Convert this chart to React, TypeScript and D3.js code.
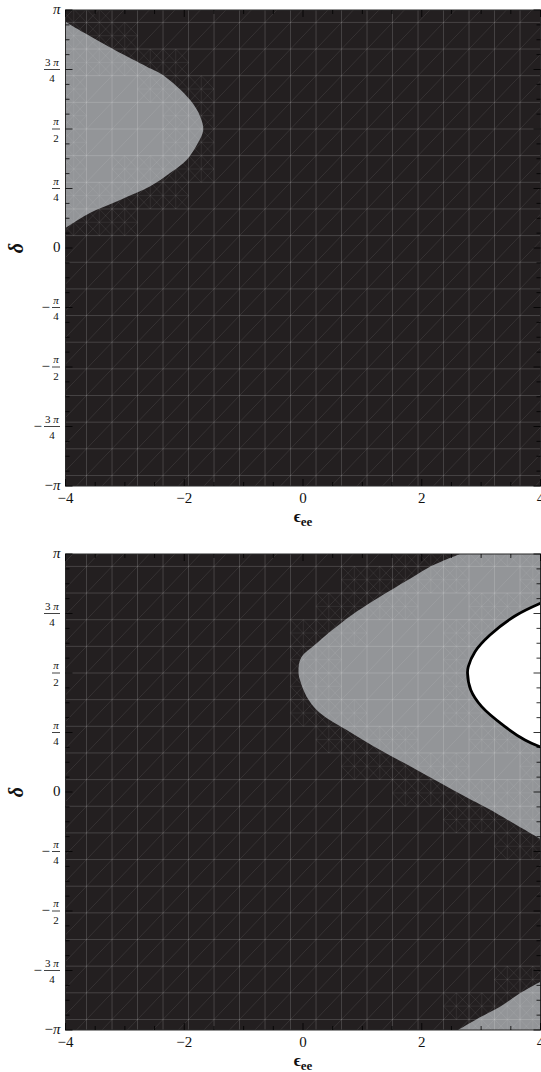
import React from "react";
import * as d3 from "d3";

const PI = Math.PI;

// ---------- axes ----------
const epsMajorTicks = [-4, -2, 0, 2, 4];
const epsTickLabels = ["−4", "−2", "0", "2", "4"];
const epsMinorTicks = [-3.5, -3, -2.5, -1.5, -1, -0.5, 0.5, 1, 1.5, 2.5, 3, 3.5];

const deltaTickValues = [PI, (3 * PI) / 4, PI / 2, PI / 4, 0, -PI / 4, -PI / 2, (-3 * PI) / 4, -PI];
const deltaTickSigns = ["", "", "", "", "", "−", "−", "−", "−"];
const deltaTickNums = ["π", "3 π", "π", "π", "0", "π", "π", "3 π", "π"];
const deltaTickDens = ["", "4", "2", "4", "", "4", "2", "4", ""];
const deltaMinorTicks = d3.range(-16, 17).filter((k) => k % 4 !== 0).map((k) => (k * PI) / 16);

// ---------- upper panel: grey region (ε_ee, δ), left edge to left edge ----------
const upperGreyEps = [-4.0, -3.67, -3.17, -2.63, -2.36, -1.9, -1.73, -1.68, -1.77, -1.96, -2.24, -2.58, -3.08, -3.59, -4.0];
const upperGreyDelta = [2.988, 2.834, 2.614, 2.394, 2.284, 1.954, 1.734, 1.558, 1.385, 1.162, 0.99, 0.811, 0.635, 0.462, 0.264];

// ---------- lower panel: grey band, from the top edge round to the right edge ----------
const lowerBandEps = [2.644, 2.139, 1.858, 1.297, 0.904, 0.568, 0.231, -0.034, -0.076, -0.051, 0.062, 0.231, 0.45, 0.736, 1.011, 1.331, 1.768, 2.223, 2.745, 3.099, 3.537, 4.0];
const lowerBandDelta = [3.1416, 2.974, 2.842, 2.578, 2.381, 2.183, 1.963, 1.769, 1.584, 1.478, 1.258, 1.082, 0.95, 0.818, 0.686, 0.541, 0.356, 0.158, -0.066, -0.211, -0.409, -0.62];

// lower panel: grey corner at the bottom right
const lowerCornerEps = [2.615, 2.981, 3.318, 3.655, 4.0];
const lowerCornerDelta = [-3.1416, -2.974, -2.834, -2.657, -2.505];

// lower panel: white region bounded by the solid curve
const lowerWhiteEps = [4.0, 3.57, 3.149, 2.897, 2.784, 2.771, 2.826, 3.01, 3.402, 3.739, 4.0];
const lowerWhiteDelta = [2.491, 2.323, 2.072, 1.852, 1.654, 1.567, 1.346, 1.126, 0.862, 0.686, 0.594];

// sampling mesh of the region plot
const MESH_EPS0 = -3.646;
const MESH_EPS_STEP = 0.4295;
const MESH_DELTA0 = PI / 2;
const MESH_DELTA_STEP = 0.3518;

// ---------- layout ----------
const WIDTH = 541;
const HEIGHT = 1072;
const PLOT_LEFT = 65.5;
const PLOT_RIGHT = 540.5;
const DARK = "#231f20";
const GREY = "#939598";
const SERIF = "'Liberation Serif', 'Times New Roman', 'DejaVu Serif', serif";

type Region = { eps: number[]; delta: number[]; corners: [number, number][]; fill: string; cls: number };

function zip(a: number[], b: number[]): [number, number][] {
  return a.map((v, i) => [v, b[i]] as [number, number]);
}

function Panel({ top, bottom, regions, uid }: { top: number; bottom: number; regions: Region[]; uid: string }) {
  const x = d3.scaleLinear().domain([-4, 4]).range([PLOT_LEFT, PLOT_RIGHT]);
  const y = d3.scaleLinear().domain([-PI, PI]).range([bottom, top]);
  const curve = d3
    .line<[number, number]>()
    .x((d) => x(d[0]))
    .y((d) => y(d[1]))
    .curve(d3.curveCatmullRom.alpha(0.5));

  const built = regions.map((r) => {
    const pts = zip(r.eps, r.delta);
    const boundary = curve(pts) || "";
    const d = boundary + r.corners.map((c) => `L${x(c[0])},${y(c[1])}`).join("") + "Z";
    const poly: [number, number][] = pts
      .map((p) => [x(p[0]), y(p[1])] as [number, number])
      .concat(r.corners.map((c) => [x(c[0]), y(c[1])] as [number, number]));
    return { ...r, boundary, d, poly };
  });

  const classify = (px: number, py: number) => {
    let c = 0;
    for (const r of built) if (d3.polygonContains(r.poly, [px, py])) c = Math.max(c, r.cls);
    return c;
  };

  // mesh lines
  const meshEps = d3.range(-12, 25).map((k) => MESH_EPS0 + k * MESH_EPS_STEP).filter((v) => v > -4.6 && v < 4.6);
  const meshDelta = d3.range(-14, 14).map((k) => MESH_DELTA0 + k * MESH_DELTA_STEP).filter((v) => v > -PI - 0.5 && v < PI + 0.5);

  let grid = "";
  meshEps.forEach((e) => (grid += `M${x(e)},${top}V${bottom}`));
  meshDelta.forEach((dl) => (grid += `M${PLOT_LEFT},${y(dl)}H${PLOT_RIGHT}`));

  let diag = "";
  d3.range(-40, 60).forEach((n) => {
    const e1 = MESH_EPS0 + (n - 40) * MESH_EPS_STEP;
    const d1 = MESH_DELTA0 - 40 * MESH_DELTA_STEP;
    const e2 = MESH_EPS0 + (n + 40) * MESH_EPS_STEP;
    const d2 = MESH_DELTA0 + 40 * MESH_DELTA_STEP;
    diag += `M${x(e1)},${y(d1)}L${x(e2)},${y(d2)}`;
  });

  // refined cells near region boundaries
  let fine = "";
  for (let i = 0; i < meshEps.length - 1; i++) {
    for (let j = 0; j < meshDelta.length - 1; j++) {
      const xa = x(meshEps[i]);
      const xb = x(meshEps[i + 1]);
      const ya = y(meshDelta[j]);
      const yb = y(meshDelta[j + 1]);
      const hw = (xb - xa) * 0.5;
      const hh = (ya - yb) * 0.5;
      const samples: number[] = [];
      for (const sx of [xa - hw * 0.6, (xa + xb) / 2, xb + hw * 0.6])
        for (const sy of [yb - hh * 0.6, (ya + yb) / 2, ya + hh * 0.6]) samples.push(classify(sx, sy));
      if (Math.min(...samples) === Math.max(...samples)) continue;
      const xm = (xa + xb) / 2;
      const ym = (ya + yb) / 2;
      fine += `M${xm},${ya}V${yb}M${xa},${ym}H${xb}`;
      fine += `M${xm},${ya}L${xb},${ym}L${xm},${yb}L${xa},${ym}Z`;
      fine += `M${xa},${yb}L${xb},${ya}`;
    }
  }

  const clipId = `clip-${uid}`;
  const whites = built.filter((r) => r.cls === 2);
  const greys = built.filter((r) => r.cls === 1);

  const labelRight = PLOT_LEFT - 5;
  const fracRight = PLOT_LEFT - 5.5;

  return (
    <g>
      <defs>
        <clipPath id={clipId}>
          <rect x={PLOT_LEFT} y={top} width={PLOT_RIGHT - PLOT_LEFT} height={bottom - top} />
        </clipPath>
      </defs>
      <g clipPath={`url(#${clipId})`}>
        <rect x={PLOT_LEFT} y={top} width={PLOT_RIGHT - PLOT_LEFT} height={bottom - top} fill={DARK} />
        {greys.map((r, i) => (
          <path key={i} d={r.d} fill={r.fill} />
        ))}
        <path d={diag} stroke="#ffffff" strokeOpacity={0.11} strokeWidth={0.8} fill="none" />
        <path d={fine} stroke="#ffffff" strokeOpacity={0.09} strokeWidth={0.8} fill="none" />
        <path d={grid} stroke="#ffffff" strokeOpacity={0.16} strokeWidth={1} fill="none" />
        {whites.map((r, i) => (
          <path key={i} d={r.d} fill={r.fill} />
        ))}
        {whites.map((r, i) => (
          <path key={"o" + i} d={r.boundary} fill="none" stroke="#000" strokeWidth={2.8} />
        ))}
      </g>
      <rect x={PLOT_LEFT} y={top} width={PLOT_RIGHT - PLOT_LEFT} height={bottom - top} fill="none" stroke="#2a2a2a" strokeWidth={1} />

      {/* frame ticks */}
      <g stroke="#000" strokeWidth={0.8}>
        {epsMajorTicks.map((t) => (
          <g key={"M" + t}>
            <line x1={x(t)} x2={x(t)} y1={bottom} y2={bottom - 7} />
            <line x1={x(t)} x2={x(t)} y1={top} y2={top + 7} />
          </g>
        ))}
        {epsMinorTicks.map((t) => (
          <g key={"m" + t}>
            <line x1={x(t)} x2={x(t)} y1={bottom} y2={bottom - 4} />
            <line x1={x(t)} x2={x(t)} y1={top} y2={top + 4} />
          </g>
        ))}
        {deltaTickValues.map((t) => (
          <g key={"D" + t}>
            <line x1={PLOT_LEFT} x2={PLOT_LEFT + 7} y1={y(t)} y2={y(t)} />
            <line x1={PLOT_RIGHT} x2={PLOT_RIGHT - 7} y1={y(t)} y2={y(t)} />
          </g>
        ))}
        {deltaMinorTicks.map((t) => (
          <g key={"d" + t}>
            <line x1={PLOT_LEFT} x2={PLOT_LEFT + 4} y1={y(t)} y2={y(t)} />
            <line x1={PLOT_RIGHT} x2={PLOT_RIGHT - 4} y1={y(t)} y2={y(t)} />
          </g>
        ))}
      </g>

      {/* ε_ee tick labels */}
      <g fontFamily={SERIF} fontSize={15} fill="#111" textAnchor="middle">
        {epsMajorTicks.map((t, i) => (
          <text key={t} x={x(t)} y={bottom + 17}>
            {epsTickLabels[i]}
          </text>
        ))}
      </g>

      {/* δ tick labels */}
      <g fontFamily={SERIF} fill="#111">
        {deltaTickValues.map((t, i) => {
          const yy = y(t);
          const sign = deltaTickSigns[i];
          const num = deltaTickNums[i];
          const den = deltaTickDens[i];
          if (!den) {
            return (
              <text key={i} x={labelRight} y={yy + 4} fontSize={15} textAnchor="end">
                {sign}
                <tspan fontStyle={num === "π" ? "italic" : "normal"}>{num}</tspan>
              </text>
            );
          }
          const w = num.length > 1 ? 16 : 8;
          const cx = fracRight - w / 2;
          return (
            <g key={i}>
              <text x={cx} y={yy - 3.8} fontSize={11} textAnchor="middle">
                {num.length > 1 ? (
                  <>
                    {num.slice(0, 2)}
                    <tspan fontStyle="italic">π</tspan>
                  </>
                ) : (
                  <tspan fontStyle="italic">π</tspan>
                )}
              </text>
              <line x1={fracRight - w} x2={fracRight} y1={yy} y2={yy} stroke="#111" strokeWidth={0.8} />
              <text x={cx} y={yy + 12.5} fontSize={11} textAnchor="middle">
                {den}
              </text>
              {sign && (
                <text x={fracRight - w - 2} y={yy + 4} fontSize={15} textAnchor="end">
                  {sign}
                </text>
              )}
            </g>
          );
        })}
      </g>

      {/* axis titles */}
      <text x={(PLOT_LEFT + PLOT_RIGHT) / 2} y={bottom + 36} fontFamily={SERIF} fontWeight="bold" fontSize={17} textAnchor="middle" fill="#111">
        ϵ
        <tspan fontSize={13} dy={4}>
          ee
        </tspan>
      </text>
      <text
        transform={`translate(23, ${(top + bottom) / 2}) rotate(-90)`}
        fontFamily={SERIF}
        fontWeight="bold"
        fontStyle="italic"
        fontSize={20}
        textAnchor="middle"
        fill="#111"
      >
        δ
      </text>
    </g>
  );
}

export default function App() {
  const upper: Region[] = [{ eps: upperGreyEps, delta: upperGreyDelta, corners: [], fill: GREY, cls: 1 }];
  const lower: Region[] = [
    { eps: lowerBandEps, delta: lowerBandDelta, corners: [[4, PI]], fill: GREY, cls: 1 },
    { eps: lowerCornerEps, delta: lowerCornerDelta, corners: [[4, -PI]], fill: GREY, cls: 1 },
    { eps: lowerWhiteEps, delta: lowerWhiteDelta, corners: [], fill: "#ffffff", cls: 2 },
  ];
  return (
    <svg
      width={WIDTH}
      height={HEIGHT}
      viewBox={`0 0 ${WIDTH} ${HEIGHT}`}
      style={{ position: "absolute", left: 0, top: 0, background: "#fff" }}
    >
      <rect width={WIDTH} height={HEIGHT} fill="#fff" />
      <Panel top={10} bottom={486} regions={upper} uid="a" />
      <Panel top={554} bottom={1030} regions={lower} uid="b" />
    </svg>
  );
}
